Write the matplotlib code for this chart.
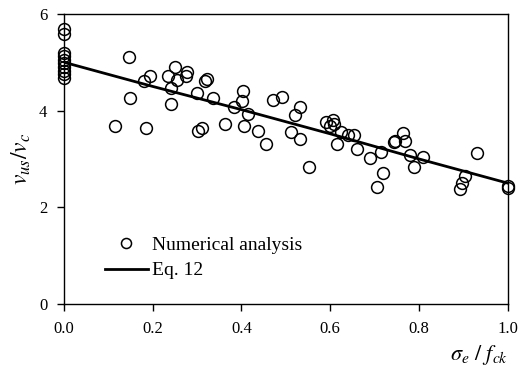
import numpy as np
import matplotlib.pyplot as plt

plt.rcParams['font.family'] = ['Liberation Serif', 'DejaVu Serif']
plt.rcParams['mathtext.fontset'] = 'stix'

# numerical analysis results (sigma_e/f_ck, v_us/v_c)
num_x = [0.0, 0.0, 0.0, 0.0, 0.0, 0.0, 0.0, 0.0, 0.0, 0.0,
         0.114, 0.146, 0.149, 0.18, 0.184, 0.194, 0.235, 0.241, 0.241, 0.25,
         0.254, 0.274, 0.277, 0.299, 0.303, 0.31, 0.317, 0.323, 0.335, 0.364,
         0.383, 0.402, 0.404, 0.406, 0.415, 0.437, 0.456, 0.47, 0.491, 0.511,
         0.521, 0.531, 0.532, 0.553, 0.591, 0.6, 0.607, 0.609, 0.616, 0.624,
         0.641, 0.654, 0.66, 0.69, 0.705, 0.714, 0.718, 0.744, 0.746, 0.764,
         0.769, 0.779, 0.788, 0.809, 0.893, 0.897, 0.904, 0.931, 1.0, 1.0]
num_y = [5.68, 5.58, 5.2, 5.12, 5.05, 4.98, 4.9, 4.82, 4.75, 4.68,
         3.69, 5.11, 4.26, 4.62, 3.64, 4.72, 4.72, 4.47, 4.14, 4.91,
         4.64, 4.72, 4.79, 4.36, 3.57, 3.64, 4.62, 4.66, 4.26, 3.72,
         4.08, 4.2, 4.41, 3.69, 3.93, 3.57, 3.31, 4.21, 4.29, 3.55,
         3.91, 4.07, 3.41, 2.84, 3.77, 3.69, 3.8, 3.73, 3.31, 3.55,
         3.5, 3.5, 3.21, 3.02, 2.42, 3.15, 2.71, 3.35, 3.38, 3.53,
         3.38, 3.08, 2.84, 3.04, 2.37, 2.5, 2.64, 3.13, 2.45, 2.4]

# Eq. 12
eq_x = [0.0, 0.1, 0.2, 0.3, 0.4, 0.5, 0.6, 0.7, 0.8, 0.9, 1.0]
eq_y = [5.0, 4.75, 4.5, 4.26, 4.02, 3.77, 3.52, 3.26, 3.0, 2.75, 2.5]

fig = plt.figure(figsize=(5.24, 3.76), dpi=100)
ax = fig.add_axes([0.122, 0.1915, 0.847, 0.7715])

ax.plot(num_x, num_y, 'o', mfc='none', mec='black', ms=8.5, mew=1.1,
        label='Numerical analysis', clip_on=False, zorder=3)
ax.plot(eq_x, eq_y, '-', color='black', lw=2.0, label='Eq. 12', zorder=2)

ax.set_xlim(0, 1.0)
ax.set_ylim(0, 6)
ax.set_xticks(np.arange(0, 1.01, 0.2))
ax.set_xticklabels(['0.0', '0.2', '0.4', '0.6', '0.8', '1.0'])
ax.set_yticks([0, 2, 4, 6])
ax.tick_params(direction='out', length=5, width=1, labelsize=12, pad=7)
for s in ax.spines.values():
    s.set_linewidth(1.0)

ax.set_ylabel(r'$v_{us}/v_c$', fontsize=17, labelpad=4)
ax.text(1.0, -0.175, r'$\sigma_e\ /\ f_{ck}$', transform=ax.transAxes,
        ha='right', va='center', fontsize=16)

ax.legend(loc='upper left', bbox_to_anchor=(0.075, 0.26), frameon=False,
          fontsize=14, markerscale=0.85, handlelength=2.2, labelspacing=0.4,
          handletextpad=0.2, borderaxespad=0)

fig.savefig('out.png', dpi=100)
